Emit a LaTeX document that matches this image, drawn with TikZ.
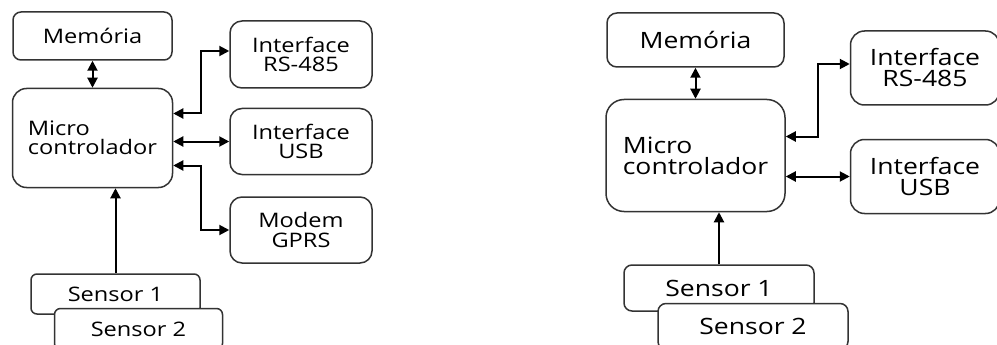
\documentclass[tikz,border=0pt]{standalone}
\usepackage{fontspec}
\setmainfont{Open Sans}[FakeStretch=1.18]
\usetikzlibrary{arrows.meta,positioning}

\begin{document}
\begin{tikzpicture}[
        x=1pt, y=1pt,
        >={Triangle[length=10pt,width=10pt]},
        every node/.style={align=center, inner sep=0pt},
        blk/.style={draw=black!80, line width=1.5pt, fill=white},
        small/.style={blk, font=\fontsize{20}{19.5}\selectfont},
        large/.style={blk, font=\fontsize{22.5}{21}\selectfont},
        link/.style={line width=2pt, <->},
        feed/.style={line width=2pt, ->}
    ]
    \useasboundingbox (0,0) rectangle (997,-345);

    % first version: three interfaces
    \node[small, rounded corners=8pt, minimum width=159pt, minimum height=48pt] (mem) at (92.5,-36) {Memória};
    \node[small, align=left, rounded corners=14pt, minimum width=160pt, minimum height=99pt, below=27pt of mem] (mcu) {Micro\\controlador};
    \node[small, rounded corners=12pt, minimum width=142pt, minimum height=66pt, right=56pt of mcu, yshift=-3.5pt] (usb) {Interface\\USB};
    \node[small, rounded corners=12pt, minimum width=142pt, minimum height=67pt, above=19pt of usb] (rs) {Interface\\RS-485};
    \node[small, rounded corners=12pt, minimum width=142pt, minimum height=66pt, below=21pt of usb] (gprs) {Modem\\GPRS};
    \node[small, rounded corners=6pt, minimum width=169pt, minimum height=40pt] (sa) at (115.5,-294) {Sensor 1};
    \node[small, rounded corners=6pt, minimum width=168pt, minimum height=41pt, below=-7pt of sa, xshift=23pt] (sb) {Sensor 2};

    \draw[link] (mem.south) -- (mem.south |- mcu.north);
    \draw[link] ([yshift=24.5pt]mcu.east) -- ++(28,0) |- ([yshift=3.5pt]rs.west);
    \draw[link] (mcu.east |- usb.west) -- (usb.west);
    \draw[link] ([yshift=-27.5pt]mcu.east) -- ++(28,0) |- (gprs.west);
    \draw[feed] (sa.north) -- (sa.north |- mcu.south);

    % second version: two interfaces
    \node[large, rounded corners=10pt, minimum width=177pt, minimum height=54pt] (mem2) at (695.5,-40) {Memória};
    \node[large, align=left, rounded corners=18pt, minimum width=179pt, minimum height=112pt, below=31pt of mem2] (mcu2) {Micro\\controlador};
    \node[large, rounded corners=14pt, minimum width=149pt, minimum height=74pt, right=64pt of mcu2, yshift=-21pt] (usb2) {Interface\\USB};
    \node[large, rounded corners=14pt, minimum width=149pt, minimum height=74pt, above=33pt of usb2] (rs2) {Interface\\RS-485};
    \node[large, rounded corners=8pt, minimum width=190pt, minimum height=46pt] (sa2) at (719,-288) {Sensor 1};
    \node[large, rounded corners=8pt, minimum width=190pt, minimum height=46pt, below=-9pt of sa2, xshift=34pt] (sb2) {Sensor 2};

    \draw[link] (mem2.south) -- (mem2.south |- mcu2.north);
    \draw[link] ([yshift=19pt]mcu2.east) -- ++(32,0) |- ([yshift=4pt]rs2.west);
    \draw[link] (mcu2.east |- usb2.west) -- (usb2.west);
    \draw[feed] (sa2.north) -- (sa2.north |- mcu2.south);
\end{tikzpicture}
\end{document}
